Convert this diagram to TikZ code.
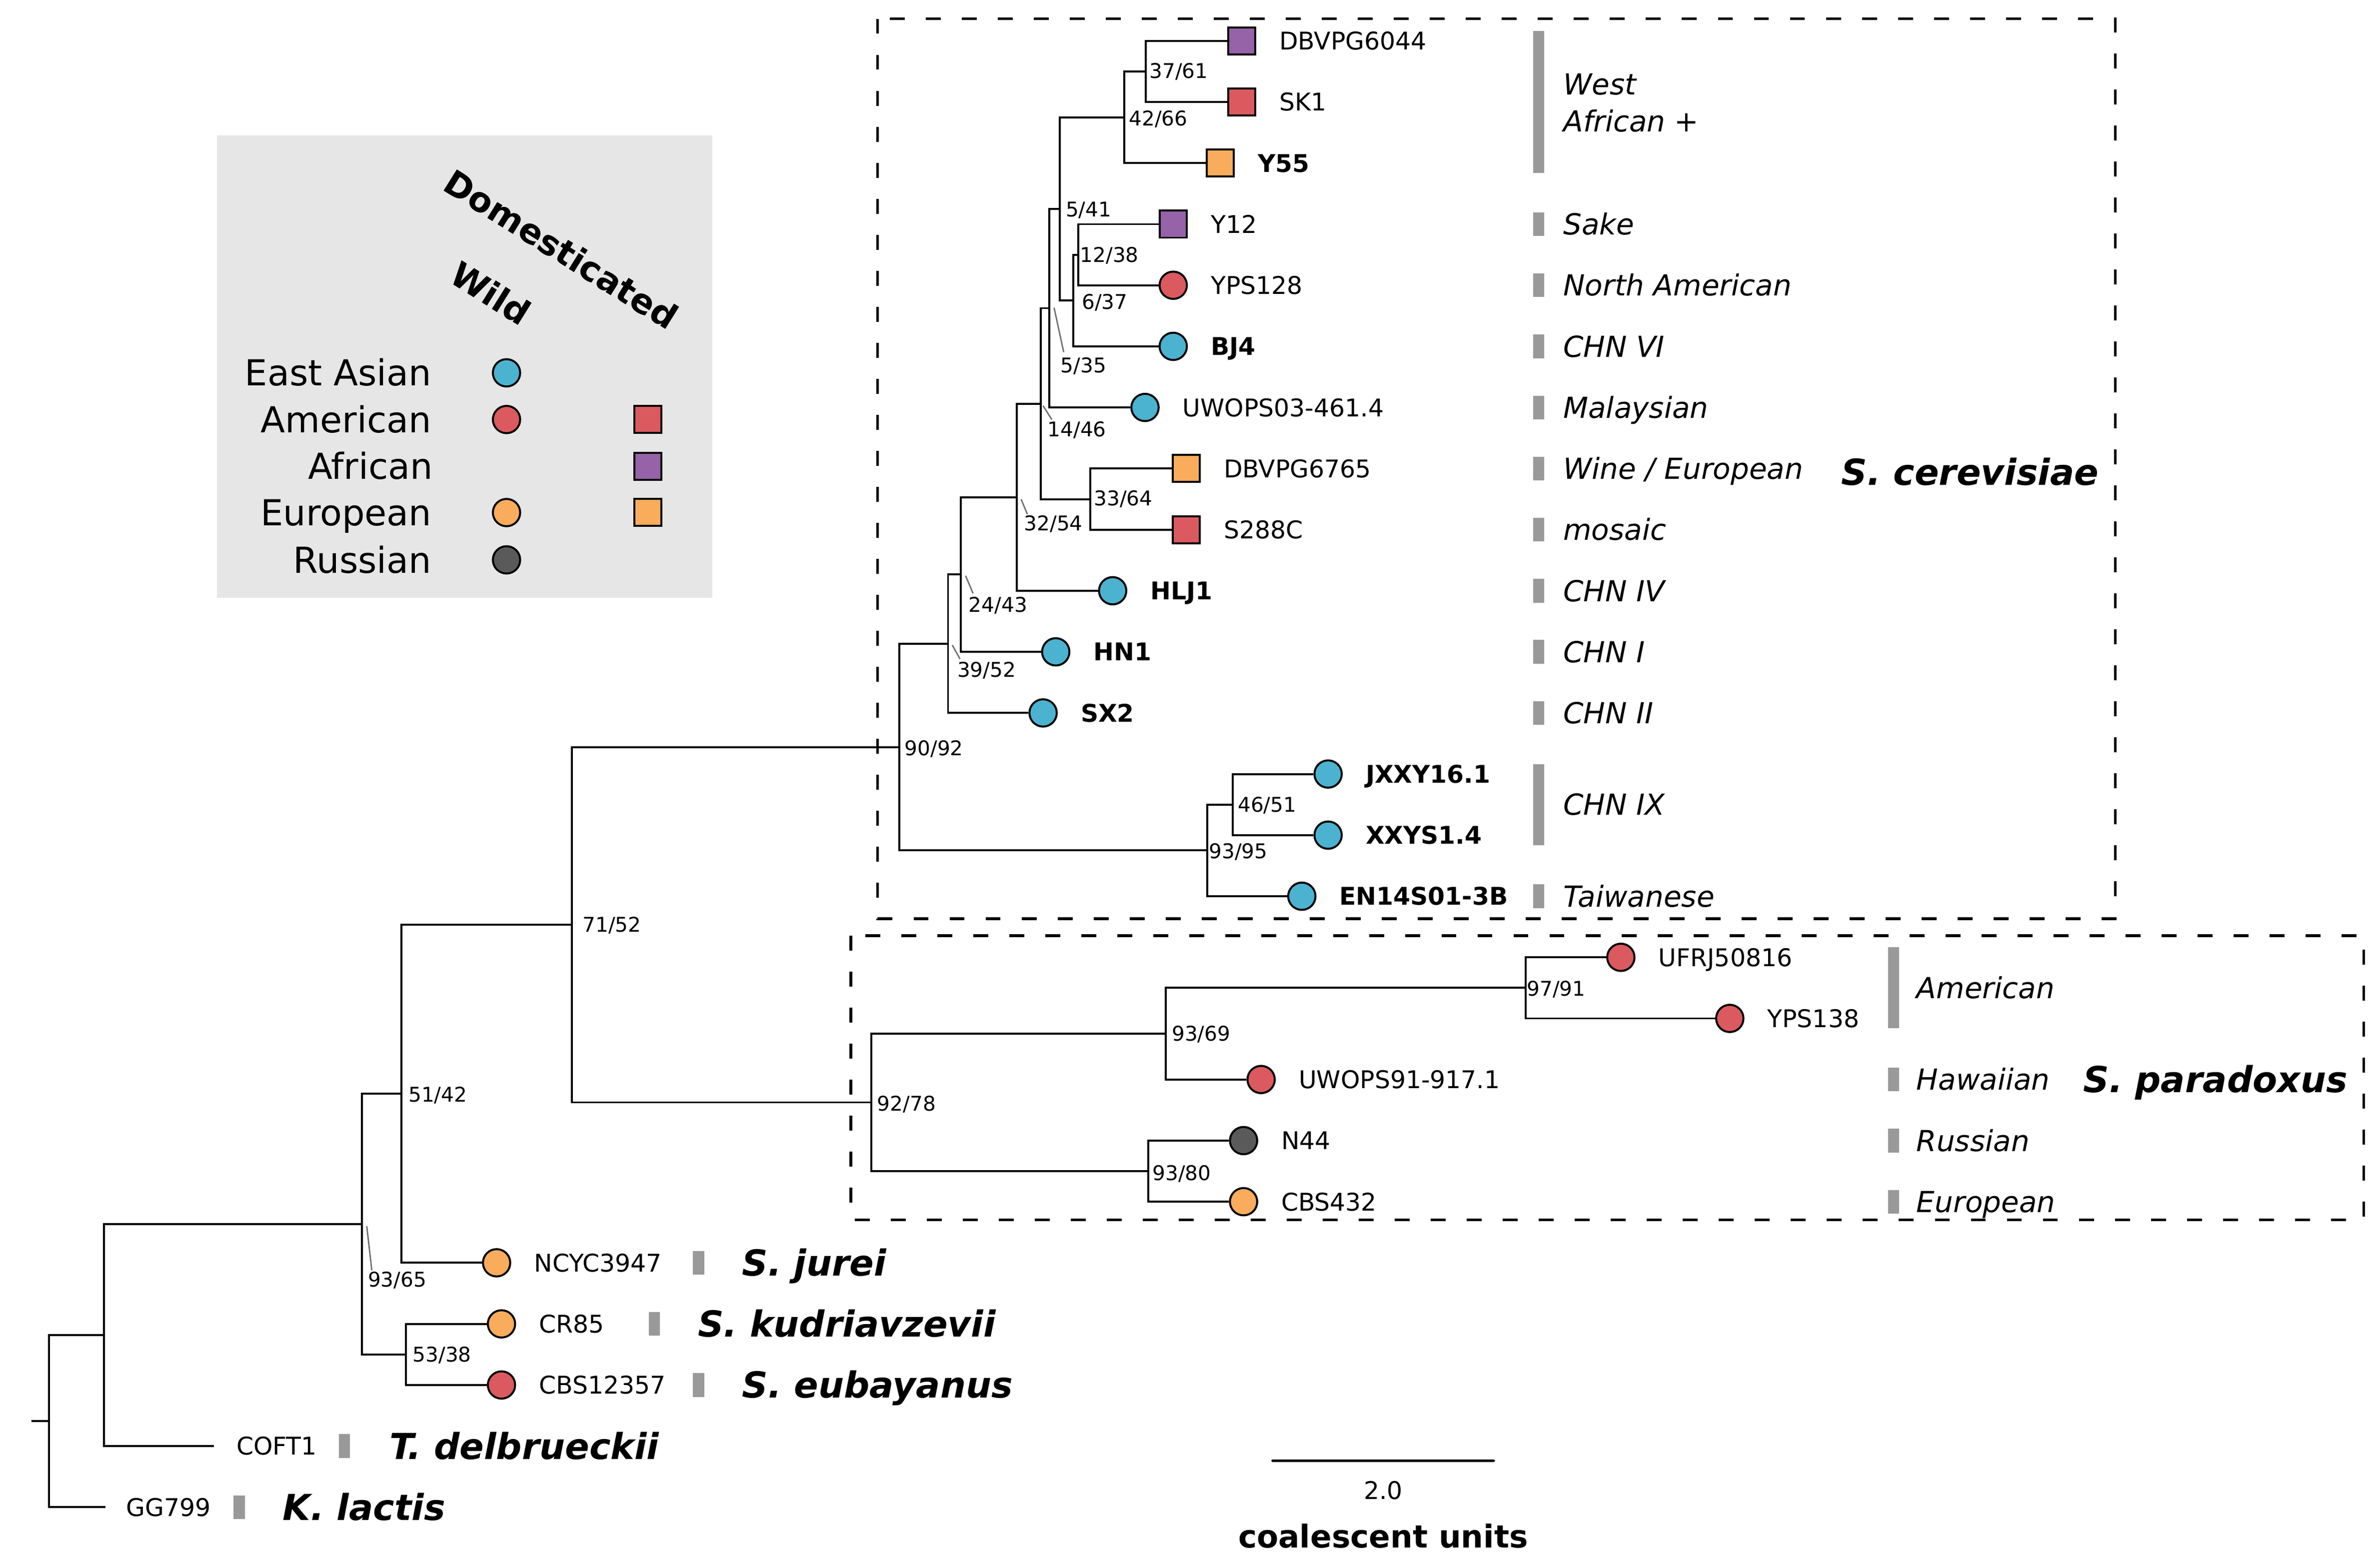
\documentclass[tikz,border=0pt]{standalone}
\usepackage{fontspec}
\setmainfont{DejaVu Sans}[BoldFont={DejaVu Sans Bold},ItalicFont={DejaVu Sans Oblique},BoldItalicFont={DejaVu Sans Bold Oblique}]
\usetikzlibrary{calc}
\definecolor{cblue}{RGB}{75,179,208}
\definecolor{cred}{RGB}{219,90,95}
\definecolor{cpurple}{RGB}{150,98,168}
\definecolor{corange}{RGB}{248,172,92}
\definecolor{cdark}{RGB}{90,90,90}
\definecolor{cbar}{RGB}{153,153,153}
\definecolor{clegend}{RGB}{230,230,230}
\definecolor{cleader}{RGB}{110,110,110}
\begin{document}
\begin{tikzpicture}[x=1pt,y=-1pt,
 br/.style={line width=1.3pt},
 wild/.style={circle, draw=black, line width=1.3pt, minimum size=17.9pt, inner sep=0pt},
 dom/.style={rectangle, draw=black, line width=1.3pt, minimum size=17.7pt, inner sep=0pt},
 leaflab/.style={anchor=west, inner sep=0pt, font=\fontsize{16}{19}\selectfont, text height=11.7pt, text depth=0pt},
 leafbold/.style={leaflab, font=\fontsize{16}{19}\selectfont\bfseries},
 supp/.style={anchor=west, inner sep=0pt, font=\fontsize{13.3}{16}\selectfont, text height=9.7pt, text depth=0pt},
 grp/.style={anchor=west, inner sep=0pt, font=\fontsize{19}{24}\selectfont\itshape, text height=13.9pt, text depth=0pt},
 grp2/.style={anchor=west, inner sep=0pt, align=left, font=\fontsize{19}{24}\selectfont\itshape},
 species/.style={anchor=west, inner sep=0pt, font=\fontsize{23.5}{28}\selectfont\bfseries\itshape, text height=17.1pt, text depth=0pt},
 barbox/.style={fill=cbar, draw=none},
 leader/.style={draw=cleader, line width=0.9pt},
 clade/.style={dash pattern=on 9.8pt off 13.8pt, line width=1.8pt},
 legtext/.style={anchor=east, inner sep=0pt, font=\fontsize{23.5}{28}\selectfont, text height=17.1pt, text depth=0pt},
 leghead/.style={inner sep=0pt, font=\fontsize{22.5}{27}\selectfont\bfseries, rotate=-32},
]
\useasboundingbox (0,0) rectangle (1560,1025.2);

% ---------- legend ----------
\fill[clegend] (142.3,88.7) rectangle (467,392);
\node[leghead] (hdom) at (367.8,163.3) {Domesticated};
\node[leghead] (hwild) at (321.8,192.1) {Wild};
\node[legtext] (lEA) at (283,244.4) {East Asian};
\node[legtext] (lAm) at (283,275) {American};
\node[legtext] (lAf) at (284,305.6) {African};
\node[legtext] (lEu) at (283,336) {European};
\node[legtext] (lRu) at (283,367) {Russian};
\node[wild, fill=cblue] (kEA) at (332,244.4) {};
\node[wild, fill=cred] (kAmW) at (332,275) {};
\node[dom, fill=cred] (kAmD) at (424.6,275) {};
\node[dom, fill=cpurple] (kAfD) at (424.6,305.6) {};
\node[wild, fill=corange] (kEuW) at (332,336) {};
\node[dom, fill=corange] (kEuD) at (424.6,336) {};
\node[wild, fill=cdark] (kRuW) at (332,367) {};

% ---------- clade boxes ----------
\draw[clade] (575.2,12.3) rectangle (1386.5,602.3);
\draw[clade] (557.6,613.4) rectangle (1549.3,799.6);

% ---------- internal nodes ----------
\coordinate (Rs) at (20.7,931.6);
\coordinate (R) at (32.2,931.6);
\coordinate (N1) at (68.0,875.2);
\coordinate (N2) at (237.2,802.45);
\coordinate (N3) at (263.0,717.0);
\coordinate (N4) at (266.2,887.9);
\coordinate (N5) at (374.7,606.2);
\coordinate (N6) at (589.3,489.7);
\coordinate (N7) at (571.2,722.65);
\coordinate (N8) at (621.4,422.0);
\coordinate (N9) at (791.2,557.45);
\coordinate (N10) at (629.6,376.6);
\coordinate (N11) at (666.4,325.9);
\coordinate (N12) at (682.2,264.6);
\coordinate (N13) at (687.8,202.0);
\coordinate (N14) at (714.6,327.2);
\coordinate (N15) at (694.7,136.9);
\coordinate (N16) at (737.0,76.85);
\coordinate (N17) at (703.5,197.0);
\coordinate (N18) at (751.1,46.8);
\coordinate (N19) at (706.6,166.95);
\coordinate (N20) at (807.9,527.4);
\coordinate (N21) at (764.1,677.6);
\coordinate (N22) at (752.7,767.7);
\coordinate (N23) at (1000.0,647.6);
\coordinate (tCOFT) at (140.2,947.95);
\coordinate (tGG) at (69.0,988.0);

% ---------- leaf symbols ----------
\node[dom,fill=cpurple] (sDBVPG6044) at (813.8,26.8) {};
\node[dom,fill=cred] (sSK1) at (813.8,66.85) {};
\node[dom,fill=corange] (sY55) at (799.7,106.9) {};
\node[dom,fill=cpurple] (sY12) at (769,146.95) {};
\node[wild,fill=cred] (sYPS128) at (769,187.0) {};
\node[wild,fill=cblue] (sBJ4) at (769,227.05) {};
\node[wild,fill=cblue] (sUWOPS03) at (750.5,267.1) {};
\node[dom,fill=corange] (sDBVPG6765) at (777.5,307.15) {};
\node[dom,fill=cred] (sS288C) at (777.5,347.2) {};
\node[wild,fill=cblue] (sHLJ1) at (729.3,387.25) {};
\node[wild,fill=cblue] (sHN1) at (692,427.3) {};
\node[wild,fill=cblue] (sSX2) at (683.7,467.35) {};
\node[wild,fill=cblue] (sJXXY) at (870.5,507.4) {};
\node[wild,fill=cblue] (sXXYS) at (870.5,547.45) {};
\node[wild,fill=cblue] (sEN14) at (853.3,587.5) {};
\node[wild,fill=cred] (sUFRJ) at (1062.4,627.55) {};
\node[wild,fill=cred] (sYPS138) at (1133.8,667.6) {};
\node[wild,fill=cred] (sUWOPS91) at (826.6,707.65) {};
\node[wild,fill=cdark] (sN44) at (815.1,747.7) {};
\node[wild,fill=corange] (sCBS432) at (815.1,787.75) {};
\node[wild,fill=corange] (sNCYC) at (325.5,827.8) {};
\node[wild,fill=corange] (sCR85) at (328.7,867.85) {};
\node[wild,fill=cred] (sCBS12357) at (328.7,907.9) {};

% ---------- branches ----------
\draw[br] (Rs) -- (R);
\draw[br] (R) |- (N1);
\draw[br] (R) |- (tGG);
\draw[br] (N1) |- (N2);
\draw[br] (N1) |- (tCOFT);
\draw[br] (N2) |- (N3);
\draw[br] (N2) |- (N4);
\draw[br] (N3) |- (N5);
\draw[br] (N3) |- (sNCYC);
\draw[br] (N4) |- (sCR85);
\draw[br] (N4) |- (sCBS12357);
\draw[br] (N5) |- (N6);
\draw[br] (N5) |- (N7);
\draw[br] (N6) |- (N8);
\draw[br] (N6) |- (N9);
\draw[br] (N8) |- (N10);
\draw[br] (N8) |- (sSX2);
\draw[br] (N10) |- (N11);
\draw[br] (N10) |- (sHN1);
\draw[br] (N11) |- (N12);
\draw[br] (N11) |- (sHLJ1);
\draw[br] (N12) |- (N13);
\draw[br] (N12) |- (N14);
\draw[br] (N13) |- (N15);
\draw[br] (N13) |- (sUWOPS03);
\draw[br] (N15) |- (N16);
\draw[br] (N15) |- (N17);
\draw[br] (N16) |- (N18);
\draw[br] (N16) |- (sY55);
\draw[br] (N18) |- (sDBVPG6044);
\draw[br] (N18) |- (sSK1);
\draw[br] (N17) |- (N19);
\draw[br] (N17) |- (sBJ4);
\draw[br] (N19) |- (sY12);
\draw[br] (N19) |- (sYPS128);
\draw[br] (N14) |- (sDBVPG6765);
\draw[br] (N14) |- (sS288C);
\draw[br] (N9) |- (N20);
\draw[br] (N9) |- (sEN14);
\draw[br] (N20) |- (sJXXY);
\draw[br] (N20) |- (sXXYS);
\draw[br] (N7) |- (N21);
\draw[br] (N7) |- (N22);
\draw[br] (N21) |- (N23);
\draw[br] (N21) |- (sUWOPS91);
\draw[br] (N23) |- (sUFRJ);
\draw[br] (N23) |- (sYPS138);
\draw[br] (N22) |- (sN44);
\draw[br] (N22) |- (sCBS432);

% ---------- leaf labels ----------
\node[leaflab] (lDBVPG6044) at ($(sDBVPG6044)+(24.5,0)$) {DBVPG6044};
\node[leaflab] (lSK1) at ($(sSK1)+(24.5,0)$) {SK1};
\node[leafbold] (lY55) at ($(sY55)+(24.5,0)$) {Y55};
\node[leaflab] (lY12) at ($(sY12)+(24.5,0)$) {Y12};
\node[leaflab] (lYPS128) at ($(sYPS128)+(24.5,0)$) {YPS128};
\node[leafbold] (lBJ4) at ($(sBJ4)+(24.5,0)$) {BJ4};
\node[leaflab] (lUWOPS03) at ($(sUWOPS03)+(24.5,0)$) {UWOPS03-461.4};
\node[leaflab] (lDBVPG6765) at ($(sDBVPG6765)+(24.5,0)$) {DBVPG6765};
\node[leaflab] (lS288C) at ($(sS288C)+(24.5,0)$) {S288C};
\node[leafbold] (lHLJ1) at ($(sHLJ1)+(24.5,0)$) {HLJ1};
\node[leafbold] (lHN1) at ($(sHN1)+(24.5,0)$) {HN1};
\node[leafbold] (lSX2) at ($(sSX2)+(24.5,0)$) {SX2};
\node[leafbold] (lJXXY) at ($(sJXXY)+(24.5,0)$) {JXXY16.1};
\node[leafbold] (lXXYS) at ($(sXXYS)+(24.5,0)$) {XXYS1.4};
\node[leafbold] (lEN14) at ($(sEN14)+(24.5,0)$) {EN14S01-3B};
\node[leaflab] (lUFRJ) at ($(sUFRJ)+(24.5,0)$) {UFRJ50816};
\node[leaflab] (lYPS138) at ($(sYPS138)+(24.5,0)$) {YPS138};
\node[leaflab] (lUWOPS91) at ($(sUWOPS91)+(24.5,0)$) {UWOPS91-917.1};
\node[leaflab] (lN44) at ($(sN44)+(24.5,0)$) {N44};
\node[leaflab] (lCBS432) at ($(sCBS432)+(24.5,0)$) {CBS432};
\node[leaflab] (lNCYC) at ($(sNCYC)+(24.5,0)$) {NCYC3947};
\node[leaflab] (lCR85) at ($(sCR85)+(24.5,0)$) {CR85};
\node[leaflab] (lCBS12357) at ($(sCBS12357)+(24.5,0)$) {CBS12357};
\node[leaflab] (lCOFT) at (154.8,947.95) {COFT1};
\node[leaflab] (lGG) at (82.6,988.0) {GG799};

% ---------- group bars ----------
\fill[barbox] (1005,20.3) rectangle (1012,113.4);
\fill[barbox] (1005,139.2) rectangle (1012,154.7);
\fill[barbox] (1005,179.25) rectangle (1012,194.75);
\fill[barbox] (1005,219.3) rectangle (1012,234.8);
\fill[barbox] (1005,259.35) rectangle (1012,274.85);
\fill[barbox] (1005,299.4) rectangle (1012,314.9);
\fill[barbox] (1005,339.45) rectangle (1012,354.95);
\fill[barbox] (1005,379.5) rectangle (1012,395.0);
\fill[barbox] (1005,419.55) rectangle (1012,435.05);
\fill[barbox] (1005,459.6) rectangle (1012,475.1);
\fill[barbox] (1005,500.9) rectangle (1012,553.95);
\fill[barbox] (1005,579.75) rectangle (1012,595.25);
\fill[barbox] (1237.7,621.05) rectangle (1244.7,674.1);
\fill[barbox] (1237.7,699.9) rectangle (1244.7,715.4);
\fill[barbox] (1237.7,739.95) rectangle (1244.7,755.45);
\fill[barbox] (1237.7,780.0) rectangle (1244.7,795.5);
\fill[barbox] (454.2,820.05) rectangle (461.6,835.55);
\fill[barbox] (425.2,860.1) rectangle (432.6,875.6);
\fill[barbox] (454.2,900.15) rectangle (461.6,915.65);
\fill[barbox] (222,940.2) rectangle (229.4,955.7);
\fill[barbox] (153.1,980.25) rectangle (160.4,995.75);

% ---------- group labels ----------
\node[grp2] (gWA) at (1024.5,67.4) {West\\African +};
\node[grp] (gSake) at (1024.5,146.95) {Sake};
\node[grp] (gNA) at (1024.5,187.0) {North American};
\node[grp] (gC6) at (1024.5,227.05) {CHN VI};
\node[grp] (gMal) at (1024.5,267.1) {Malaysian};
\node[grp] (gWine) at (1024.5,307.15) {Wine / European};
\node[grp] (gMos) at (1024.5,347.2) {mosaic};
\node[grp] (gC4) at (1024.5,387.25) {CHN IV};
\node[grp] (gC1) at (1024.5,427.3) {CHN I};
\node[grp] (gC2) at (1024.5,467.35) {CHN II};
\node[grp] (gC9) at (1024.5,527.4) {CHN IX};
\node[grp] (gTw) at (1024.5,587.5) {Taiwanese};
\node[grp] (gAm) at (1256,647.6) {American};
\node[grp] (gHw) at (1256,707.65) {Hawaiian};
\node[grp] (gRu) at (1256,747.7) {Russian};
\node[grp] (gEu) at (1256,787.75) {European};

% ---------- species labels ----------
\node[species] (spCer) at (1206.8,309.4) {S. cerevisiae};
\node[species] (spPar) at (1365.4,707.4) {S. paradoxus};
\node[species] (spJur) at (486.3,827.8) {S. jurei};
\node[species] (spKud) at (457.3,867.85) {S. kudriavzevii};
\node[species] (spEub) at (486.3,907.9) {S. eubayanus};
\node[species] (spTde) at (255.1,947.95) {T. delbrueckii};
\node[species] (spKla) at (185.2,988.0) {K. lactis};

% ---------- support values ----------
\node[supp] (b3761) at (753.3,46.5) {37/61};
\node[supp] (b4266) at (739.8,77.5) {42/66};
\node[supp] (b541) at (698.4,137.2) {5/41};
\node[supp] (b1238) at (707.8,166.9) {12/38};
\node[supp] (b637) at (709.0,197.9) {6/37};
\node[supp] (b535) at (695.0,239.3) {5/35};
\node[supp] (b1446) at (686.5,281.2) {14/46};
\node[supp] (b3364) at (716.9,326.7) {33/64};
\node[supp] (b3254) at (671.1,343.1) {32/54};
\node[supp] (b2443) at (634.8,396.5) {24/43};
\node[supp] (b3952) at (627.3,438.8) {39/52};
\node[supp] (b9092) at (592.8,490.4) {90/92};
\node[supp] (b4651) at (811.2,527.5) {46/51};
\node[supp] (b9395) at (792.2,557.9) {93/95};
\node[supp] (b7152) at (381.7,606.1) {71/52};
\node[supp] (b5142) at (267.6,717.4) {51/42};
\node[supp] (b9365) at (241.0,838.8) {93/65};
\node[supp] (b5338) at (270.4,888.0) {53/38};
\node[supp] (b9278) at (574.8,723.3) {92/78};
\node[supp] (b9791) at (1000.6,647.9) {97/91};
\node[supp] (b9369) at (767.9,677.4) {93/69};
\node[supp] (b9380) at (755.2,768.8) {93/80};

% leader lines
\coordinate (q535a) at (690.9,201.7); \coordinate (q535b) at (697.2,230.8);
\coordinate (q1446a) at (683.7,266.0); \coordinate (q1446b) at (689.4,275.0);
\coordinate (q3254a) at (669.3,327.3); \coordinate (q3254b) at (673.4,337.1);
\coordinate (q2443a) at (632.9,377.4); \coordinate (q2443b) at (637.8,389.0);
\coordinate (q3952a) at (624.2,422.9); \coordinate (q3952b) at (629.2,431.9);
\coordinate (q9365a) at (240.4,803.8); \coordinate (q9365b) at (243.7,832.7);
\draw[leader] (q535a) -- (q535b);
\draw[leader] (q1446a) -- (q1446b);
\draw[leader] (q3254a) -- (q3254b);
\draw[leader] (q2443a) -- (q2443b);
\draw[leader] (q3952a) -- (q3952b);
\draw[leader] (q9365a) -- (q9365b);

% ---------- scale bar ----------
\coordinate (sbL) at (834.2,957.5);
\coordinate (sbR) at (979.0,957.5);
\draw[line width=1.8pt, line cap=round] (sbL) -- (sbR);
\node[inner sep=0pt, font=\fontsize{16}{19}\selectfont, text height=11.7pt, text depth=0pt] (sbv) at (906.6,977) {2.0};
\node[inner sep=0pt, font=\fontsize{20.6}{25}\selectfont\bfseries] (sbu) at (906.6,1007) {coalescent units};
\end{tikzpicture}
\end{document}
